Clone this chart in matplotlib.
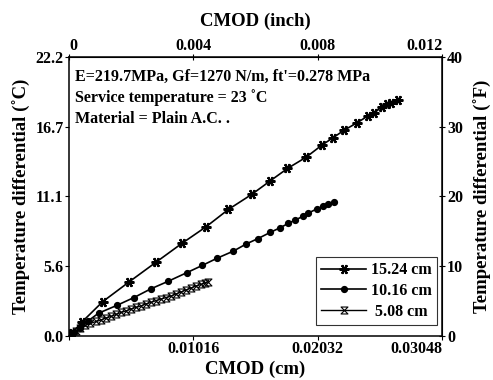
import matplotlib
matplotlib.use("Agg")
import matplotlib.pyplot as plt
from matplotlib.path import Path

plt.rcParams['font.family'] = ['Liberation Serif', 'DejaVu Serif']
plt.rcParams['font.weight'] = 'bold'

# CMOD (cm) and temperature differential (deg C)
x_1524 = [0, 0.00022, 0.00109, 0.00275, 0.00493, 0.00713, 0.00923, 0.01120, 0.01302,
          0.01493, 0.01640, 0.01784, 0.01937, 0.02065, 0.02155, 0.02247, 0.02356,
          0.02441, 0.02492, 0.02555, 0.02601, 0.02629, 0.02686]
y_1524 = [0, 0.215, 1.14, 2.73, 4.32, 5.89, 7.38, 8.70, 10.08, 11.28, 12.33, 13.34,
          14.24, 15.20, 15.78, 16.39, 17.00, 17.53, 17.77, 18.24, 18.46, 18.56, 18.83]

x_1016 = [0, 0.00041, 0.00090, 0.00155, 0.00241, 0.00390, 0.00531, 0.00666, 0.00809,
          0.00960, 0.01089, 0.01207, 0.01343, 0.01446, 0.01544, 0.01642, 0.01724,
          0.01792, 0.01847, 0.01915, 0.01955, 0.02024, 0.02078, 0.02116, 0.02165]
y_1016 = [0, 0.28, 0.64, 1.19, 1.81, 2.43, 3.06, 3.74, 4.35, 5.03, 5.62, 6.18, 6.76,
          7.32, 7.76, 8.24, 8.62, 8.97, 9.23, 9.55, 9.79, 10.12, 10.34, 10.50, 10.66]

x_508 = [0, 0.00025, 0.00057, 0.00090, 0.00131, 0.00172, 0.00221, 0.00261, 0.00302,
         0.00343, 0.00384, 0.00425, 0.00466, 0.00507, 0.00547, 0.00588, 0.00629,
         0.00670, 0.00711, 0.00752, 0.00793, 0.00834, 0.00874, 0.00915, 0.00956,
         0.00997, 0.01038, 0.01079, 0.01111, 0.01136]
y_508 = [0, 0.16, 0.40, 0.60, 0.84, 0.99, 1.15, 1.27, 1.43, 1.55, 1.71, 1.87, 1.99,
         2.15, 2.27, 2.39, 2.55, 2.67, 2.82, 2.94, 3.06, 3.18, 3.34, 3.50, 3.66, 3.82,
         3.98, 4.10, 4.22, 4.32]

series_labels = ['15.24 cm', '10.16 cm', ' 5.08 cm']

x_ticks_cm = [0.01016, 0.02032, 0.03048]
x_ticklabels_cm = ['0.01016', '0.02032', '0.03048']
x_ticks_inch = [0, 0.004, 0.008, 0.012]
x_ticklabels_inch = ['0', '0.004', '0.008', '0.012']
y_ticks_F = [0, 10, 20, 30, 40]
y_ticklabels_C = ['0.0', '5.6', '11.1', '16.7', '22.2']

annotations = ["E=219.7MPa, Gf=1270 N/m, ft'=0.278 MPa",
               "Service temperature = 23 \u02daC",
               "Material = Plain A.C. ."]

fig = plt.figure(figsize=(4.93, 3.80), dpi=100)
ax = fig.add_axes([0.140, 0.116, 0.757, 0.734])

hourglass = Path([(-1, 1), (1, 1), (-1, -1), (1, -1), (-1, 1)],
                 [Path.MOVETO, Path.LINETO, Path.LINETO, Path.LINETO, Path.CLOSEPOLY])

ax.plot(x_1524, y_1524, color='black', lw=1.2, marker=(6, 2, 90), ms=7, mew=1.6,
        label=series_labels[0])
ax.plot(x_1016, y_1016, color='black', lw=1.2, marker='o', ms=4.2,
        label=series_labels[1])
ax.plot(x_508, y_508, color='black', lw=1.0, marker=hourglass, ms=5, mew=0.8,
        mfc='none', label=series_labels[2])

ax.set_xlim(0, 0.03048)
ax.set_ylim(0, 40 / 1.8)
ax.set_xticks([0] + x_ticks_cm)
ax.set_xticklabels([''] + x_ticklabels_cm)
ax.set_yticks([f / 1.8 for f in y_ticks_F])
ax.set_yticklabels(y_ticklabels_C)
ax.tick_params(axis='both', direction='out', length=3, width=0.8, labelsize=11.5, pad=1)
ax.get_xticklabels()[-1].set_ha('right')
for s in ax.spines.values():
    s.set_linewidth(1.1)

ax.set_xlabel('CMOD (cm)', fontsize=13.5, fontweight='bold', labelpad=2)
ax.set_ylabel('Temperature differential (\u02daC)', fontsize=13.5, fontweight='bold', labelpad=3)

secx = ax.secondary_xaxis('top', functions=(lambda c: c / 2.54, lambda i: i * 2.54))
secx.set_xticks(x_ticks_inch)
secx.set_xticklabels(x_ticklabels_inch)
secx.tick_params(direction='inout', length=4, width=0.8, labelsize=11.5, pad=0)
secx.set_xlabel('CMOD (inch)', fontsize=13.5, fontweight='bold', labelpad=9)
top_labels = secx.get_xticklabels()
top_labels[0].set_ha('left')
top_labels[-1].set_ha('right')

secy = ax.secondary_yaxis('right', functions=(lambda c: c * 1.8, lambda f: f / 1.8))
secy.set_yticks(y_ticks_F)
secy.set_yticklabels([str(v) for v in y_ticks_F])
secy.tick_params(direction='inout', length=5, width=0.8, labelsize=11.5, pad=1)
secy.set_ylabel('Temperature differential (\u02daF)', fontsize=13.5, fontweight='bold', labelpad=8)

for i, t in enumerate(annotations):
    ax.text(0.015, 0.93 - i * 0.077, t, transform=ax.transAxes, fontsize=11.5,
            fontweight='bold', va='center', ha='left')

leg = ax.legend(loc='lower right', bbox_to_anchor=(0.987, 0.038), frameon=True,
                fancybox=False, edgecolor='black', fontsize=11.5, handlelength=2.8,
                borderpad=0.35, labelspacing=0.3, handletextpad=0.3, borderaxespad=0)
leg.get_frame().set_linewidth(0.8)

fig.savefig('out.png', dpi=100)
